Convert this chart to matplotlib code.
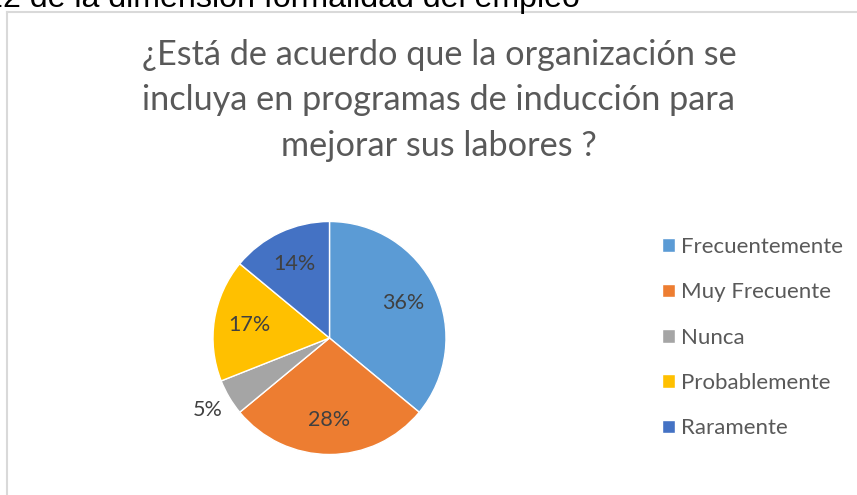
import matplotlib.pyplot as plt
import numpy as np

W, H = 857, 495
DPI = 100

categories = ['Frecuentemente', 'Muy Frecuente', 'Nunca', 'Probablemente', 'Raramente']
values = [36, 28, 5, 17, 14]
colors = ['#5B9BD5', '#ED7D31', '#A5A5A5', '#FFC000', '#4472C4']
title = '¿Está de acuerdo que la organización se\nincluya en programas de inducción para\nmejorar sus labores ?'
caption = 'Figura 12 de la dimensión formalidad del empleo'

plt.rcParams['font.family'] = ['Lato', 'DejaVu Sans']

fig = plt.figure(figsize=(W / DPI, H / DPI), dpi=DPI)
fig.patch.set_facecolor('white')


def px(x, y):
    # pixel coords (top-left origin) -> figure fraction
    return x / W, 1 - y / H


# caption of the document, cut off at the top edge;
# size it so that "2 de la ... empleo" spans x = 3..580
renderer = fig.canvas.get_renderer()
probe = fig.text(0, 0, caption[8:], fontsize=20, family='Liberation Sans')
cap_size = 20 * 577 / probe.get_window_extent(renderer).width
probe.remove()
fig.text(*px(580, 7), caption, ha='right', va='baseline', fontsize=cap_size,
         family='Liberation Sans', color='black')

# chart area border
fig.add_artist(plt.Line2D([7.5 / W, 7.5 / W], [0, 1 - 11.5 / H],
                          color='#D9D9D9', lw=1.5, transform=fig.transFigure))
fig.add_artist(plt.Line2D([7.5 / W, 1], [1 - 11.5 / H, 1 - 11.5 / H],
                          color='#D9D9D9', lw=1.5, transform=fig.transFigure))

# title (baseline of the last line)
fig.text(*px(439, 156), title, ha='center', va='baseline', fontsize=24.7,
         color='#595959', linespacing=1.52, multialignment='center')

# pie
cx, cy, r = 329.5, 338, 116.5
ax = fig.add_axes([(cx - r) / W, (H - cy - r) / H, 2 * r / W, 2 * r / H])
wedges, texts, autotexts = ax.pie(
    values, colors=colors, startangle=90, counterclock=False,
    autopct='%1.0f%%', pctdistance=0.7,
    wedgeprops=dict(edgecolor='white', linewidth=1),
    textprops=dict(color='#404040', fontsize=15.5))
ax.set_xlim(-1, 1)
ax.set_ylim(-1, 1)
ax.set_aspect('equal')

# small slice label goes outside
for w, t, v in zip(wedges, autotexts, values):
    if v < 8:
        ang = np.deg2rad((w.theta1 + w.theta2) / 2)
        t.set_position((1.21 * np.cos(ang), 1.21 * np.sin(ang)))

# legend
fig.legend(wedges, categories, loc='upper left',
           bbox_to_anchor=px(662, 237), frameon=False, fontsize=16,
           labelcolor='#595959', handlelength=0.59, handleheight=0.59,
           handletextpad=0.27, labelspacing=1.14, borderpad=0, borderaxespad=0)

fig.savefig('out.png', dpi=DPI)
